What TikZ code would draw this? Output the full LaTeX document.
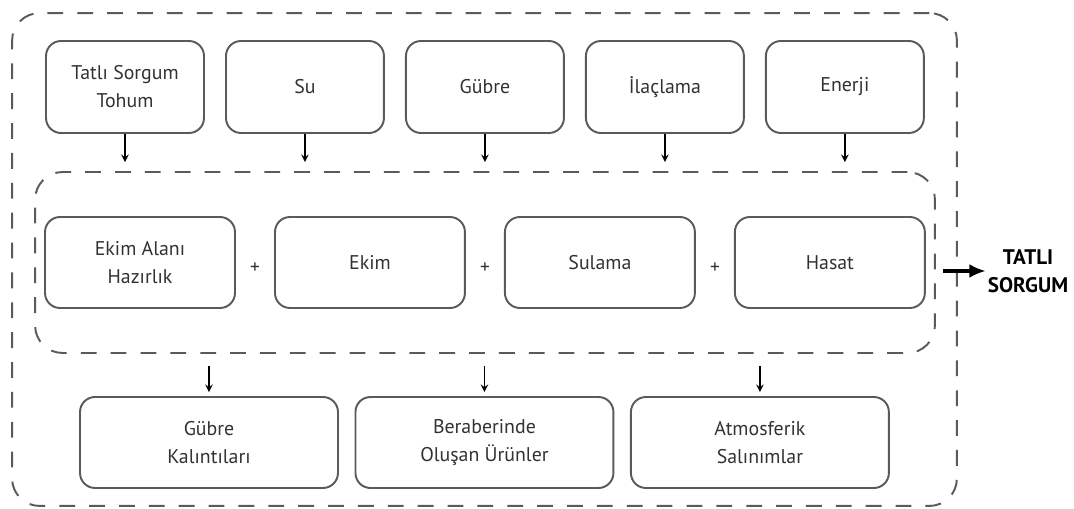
\documentclass[tikz,border=0pt]{standalone}
\usepackage{fontspec}
\setmainfont{PT Sans}
\usetikzlibrary{shapes.geometric, arrows, arrows.meta, positioning}
\definecolor{edge}{RGB}{90,90,90}
\definecolor{ink}{RGB}{50,50,50}
\tikzstyle{frame}   = [rectangle, rounded corners=0.55cm, draw=edge, line width=1.1pt,
                       dash pattern=on 9pt off 8pt]
\tikzstyle{input}   = [rectangle, rounded corners=0.3cm, minimum width=3.16cm, minimum height=1.84cm,
                       text centered, align=center, draw=edge, line width=1.1pt, text=ink,
                       font=\fontsize{11.3}{16}\selectfont]
\tikzstyle{stage}   = [input, minimum width=3.8cm, minimum height=1.82cm]
\tikzstyle{output}  = [input, minimum width=5.16cm, minimum height=1.82cm]
\tikzstyle{plus}    = [text=ink, font=\fontsize{11}{16}\selectfont, yshift=-3pt]
\tikzstyle{arrow}   = [line width=0.9pt, ->, >=stealth]
\tikzstyle{outarrow}= [line width=1.8pt, -{Latex[length=0.33cm, width=0.28cm]}]

\begin{document}
\begin{tikzpicture}[x=0.02cm, y=-0.02cm, node distance=3.6cm]
  \useasboundingbox (0,0) rectangle (1074,509);
  % frames
  \node (outer) [frame, minimum width=18.9cm, minimum height=9.86cm] at (484.5,259.5) {};
  \node (inner) [frame, minimum width=18cm, minimum height=3.62cm] at (485,262.5) {};

  % inputs
  \node (seed)       [input] at (125,87) {Tatlı Sorgum\\Tohum};
  \node (water)      [input, right of=seed]       {Su};
  \node (fertilizer) [input, right of=water]      {Gübre};
  \node (spraying)   [input, right of=fertilizer] {İlaçlama};
  \node (energy)     [input, right of=spraying]   {Enerji};

  % stages
  \node (prep)       [stage] at (140,262.5) {Ekim Alanı\\Hazırlık};
  \node (sowing)     [stage, node distance=4.6cm, right of=prep]       {Ekim};
  \node (irrigation) [stage, node distance=4.6cm, right of=sowing]     {Sulama};
  \node (harvest)    [stage, node distance=4.6cm, right of=irrigation] {Hasat};

  \path (prep)       -- node[plus] {+} (sowing);
  \path (sowing)     -- node[plus] {+} (irrigation);
  \path (irrigation) -- node[plus] {+} (harvest);

  % outputs
  \node (residue)    [output] at (209,442.5) {Gübre\\Kalıntıları};
  \node (coproducts) [output, node distance=5.51cm, right of=residue]    {Beraberinde\\Oluşan Ürünler};
  \node (emissions)  [output, node distance=5.51cm, right of=coproducts] {Atmosferik\\Salınımlar};

  \node (product) [align=center, inner sep=1pt, font=\fontsize{12}{16}\selectfont\bfseries] at (1028,271) {TATLI\\SORGUM};

  \foreach \n in {seed, water, fertilizer, spraying, energy}
    \draw[arrow, shorten >=0.18cm] (\n) -- (\n |- inner.north);
  \foreach \n in {residue, coproducts, emissions}
    \draw[arrow, shorten <=0.24cm, shorten >=0.08cm] (\n |- inner.south) -- (\n);
  \draw[outarrow, shorten <=0.14cm] (inner.east |- product) -- (product);
\end{tikzpicture}
\end{document}
